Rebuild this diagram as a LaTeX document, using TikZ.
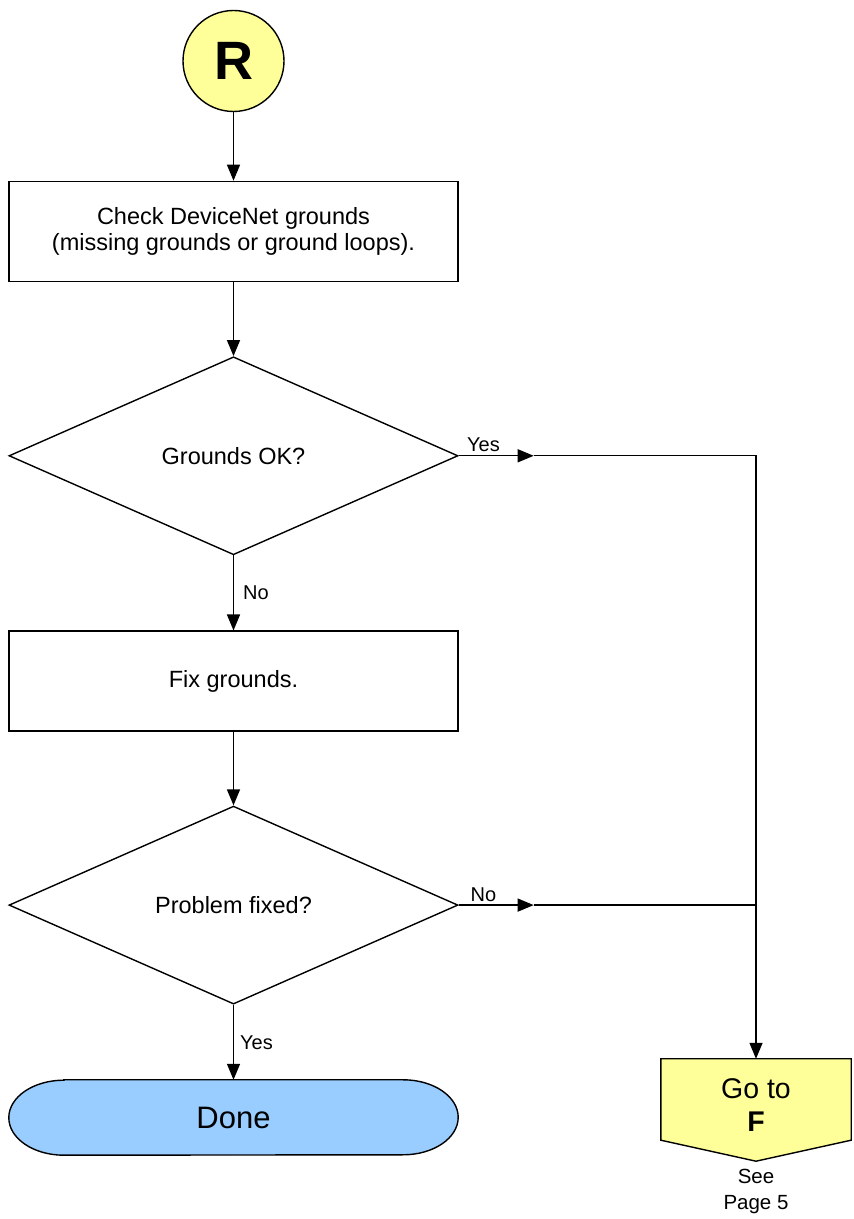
\documentclass[tikz,border=0pt]{standalone}
\usepackage{fontspec}
\setmainfont{Liberation Sans}
\usetikzlibrary{shapes.geometric,arrows.meta,positioning,backgrounds}
\definecolor{connyellow}{HTML}{FFFF99}
\definecolor{doneblue}{HTML}{99CCFF}
\begin{document}
\begin{tikzpicture}[x=1pt, y=1pt,
        every node/.style = {align=center, font=\fontsize{23.5}{26.5}\selectfont},
        box/.style = {draw, line width=1.4pt, minimum width=449pt, minimum height=100pt},
        decision/.style = {draw, diamond, line width=1.4pt, inner sep=0pt,
            minimum width=449pt, minimum height=198pt},
        flow/.style = {line width=1.4pt, -{Triangle[length=16pt,width=13pt]}},
        lbl/.style = {font=\fontsize{20}{24}\selectfont, inner sep=3pt}]
    \useasboundingbox (0,0) rectangle (854,1219);
    \node [draw, circle, fill=connyellow, line width=1.4pt, minimum size=101pt,
        font=\fontsize{54}{60}\selectfont\bfseries] (start) at (233.5,1158) {R};
    \node [box, below=68.5pt of start] (check)
        {Check DeviceNet grounds\\(missing grounds or ground loops).};
    \node [decision, below=74pt of check] (grounds) {Grounds OK?};
    \node [box, below=75pt of grounds] (fix) {Fix grounds.};
    \node [decision, below=73.5pt of fix] (fixed) {Problem fixed?};
    \node [below=75pt of fixed, minimum width=449pt, minimum height=75pt,
        font=\fontsize{31}{36}\selectfont] (done) {Done};
    \node [minimum width=190pt, minimum height=81pt, inner sep=0pt,
        font=\fontsize{28.5}{33}\selectfont] (goto) at (756,113.5) {Go to\\\textbf{F}};
    \node [lbl, align=center, font=\fontsize{20.5}{26}\selectfont] (see) at (756,28) {See\\Page 5};
    \coordinate (yesarr) at ([xshift=75pt]grounds.east);
    \coordinate (noarr) at ([xshift=75pt]fixed.east);
    \coordinate (join) at (noarr -| goto.north);
    \coordinate (gotop) at ([yshift=6pt]goto.north);
    \begin{scope}[on background layer]
        \draw [fill=doneblue, line width=1.4pt] ([xshift=55pt]done.north west)
            -- ([xshift=-55pt]done.north east)
            arc [start angle=90, end angle=-90, x radius=55pt, y radius=37.5pt]
            -- ([xshift=55pt]done.south west)
            arc [start angle=270, end angle=90, x radius=55pt, y radius=37.5pt] -- cycle;
        \draw [fill=connyellow, line width=1.4pt] ([yshift=6pt]goto.north west)
            -- ([yshift=6pt]goto.north east) -- ([yshift=6pt]goto.south east)
            -- ([yshift=-15pt]goto.south) -- ([yshift=6pt]goto.south west) -- cycle;
    \end{scope}
    % main line
    \draw [flow] (start) -- (check);
    \draw [flow] (check) -- (grounds);
    \draw [flow] (grounds) -- node [lbl, right, xshift=6pt] {No} (fix);
    \draw [flow] (fix) -- (fixed);
    \draw [flow] (fixed) -- node [lbl, right, xshift=3pt] {Yes} (done);
    % branches to F
    \draw [flow] (grounds.east) -- node [lbl, above, pos=0.33] {Yes} (yesarr);
    \draw [flow] (yesarr) -| (gotop);
    \draw [flow] (fixed.east) -- node [lbl, above, pos=0.33] {No} (noarr);
    \draw [line width=1.4pt] (noarr) -- (join);
\end{tikzpicture}
\end{document}
